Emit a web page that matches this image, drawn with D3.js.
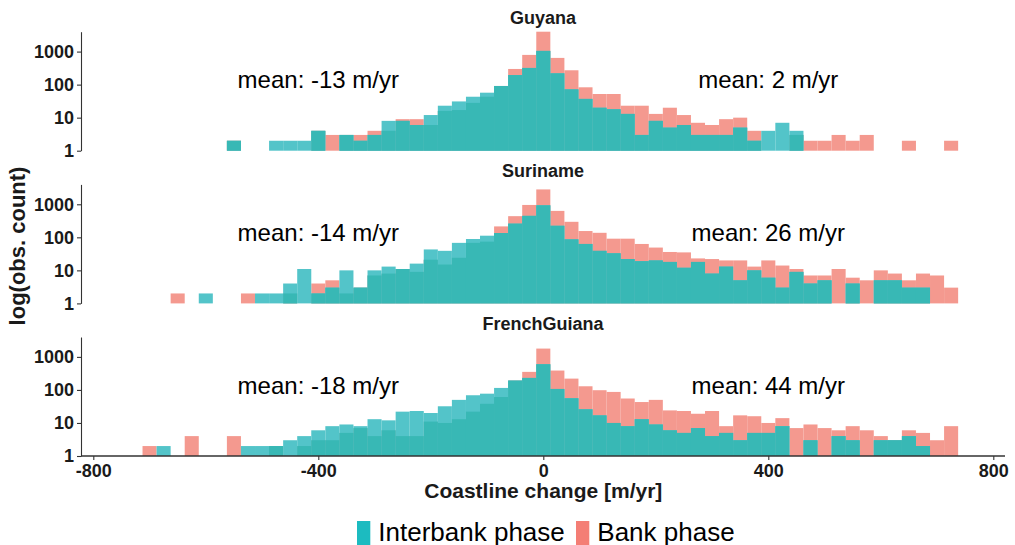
<!DOCTYPE html>
<html>
<head>
<meta charset="utf-8">
<script src="https://cdn.jsdelivr.net/npm/d3@7"></script>
<style>
  html, body { margin: 0; padding: 0; background: #fff; }
  svg { display: block; font-family: "Liberation Sans", Arial, sans-serif; }
</style>
</head>
<body>
<svg id="chart" width="1015" height="545"></svg>
<script>
// Histogram bin centres (bin width 25 m/yr)
const binCenters = [
  -700, -675, -650, -625, -600, -575, -550, -525, -500, -475,
  -450, -425, -400, -375, -350, -325, -300, -275, -250, -225,
  -200, -175, -150, -125, -100, -75, -50, -25, 0, 25,
  50, 75, 100, 125, 150, 175, 200, 225, 250, 275,
  300, 325, 350, 375, 400, 425, 450, 475, 500, 525,
  550, 575, 600, 625, 650, 675, 700, 725
];

const countries = ["Guyana", "Suriname", "FrenchGuiana"];
const phases = ["Interbank phase", "Bank phase"];

// Observation counts per bin, interbank phase
const guyanaInterbank = [
  0, 0, 0, 0, 0, 0, 2, 0, 0, 2,
  2, 2, 4, 0, 3, 2, 3, 8, 8, 6,
  12, 23, 31, 43, 57, 91, 195, 320, 1050, 220,
  72, 37, 20, 18, 13, 3, 8, 5, 6, 3,
  3, 3, 5, 2, 4, 7, 4, 0, 0, 0,
  0, 0, 0, 0, 0, 0, 0, 0
];
const surinameInterbank = [
  0, 0, 0, 0, 2, 0, 0, 0, 2, 2,
  4, 11, 2, 3, 10, 3, 10, 13, 11, 16,
  43, 39, 68, 89, 112, 135, 260, 447, 933, 224,
  87, 63, 39, 33, 22, 19, 20, 18, 12, 18,
  8, 13, 5, 10, 6, 3, 9, 4, 5, 0,
  4, 0, 5, 5, 3, 3, 0, 0
];
const frenchGuianaInterbank = [
  0, 2, 0, 0, 0, 0, 0, 2, 2, 2,
  3, 4, 6, 8, 9, 8, 13, 12, 22, 23,
  20, 32, 50, 69, 77, 115, 192, 231, 600, 107,
  56, 26, 17, 10, 8, 13, 9, 6, 5, 7,
  4, 5, 3, 5, 5, 8, 0, 3, 0, 4,
  3, 0, 3, 3, 4, 2, 0, 0
];

// Observation counts per bin, bank phase
const guyanaBank = [
  0, 0, 0, 0, 0, 0, 2, 0, 0, 0,
  0, 0, 4, 3, 3, 3, 4, 4, 9, 9,
  6, 16, 17, 28, 43, 91, 298, 794, 4000, 644,
  272, 83, 52, 52, 23, 23, 13, 20, 12, 7,
  6, 9, 10, 4, 0, 0, 3, 2, 2, 3,
  2, 3, 0, 0, 2, 0, 0, 2
];
const surinameBank = [
  0, 0, 2, 0, 0, 0, 0, 2, 0, 0,
  2, 0, 4, 5, 2, 3, 7, 8, 11, 9,
  21, 15, 24, 68, 74, 214, 437, 955, 2818, 631,
  295, 155, 137, 91, 91, 63, 49, 36, 35, 23,
  22, 20, 20, 13, 20, 14, 11, 7, 7, 11,
  6, 5, 10, 8, 5, 8, 7, 3
];
const frenchGuianaBank = [
  2, 0, 0, 4, 0, 0, 4, 0, 0, 2,
  0, 2, 3, 3, 5, 7, 4, 6, 4, 4,
  11, 10, 13, 22, 38, 61, 192, 352, 1785, 386,
  220, 129, 98, 87, 55, 43, 50, 24, 23, 19,
  23, 8, 17, 16, 10, 14, 7, 9, 7, 6,
  8, 6, 4, 3, 6, 5, 3, 8
];

const meanInterbank = [-13, -14, -18];
const meanBank = [2, 26, 44];

const xTicks = [-800, -400, 0, 400, 800];
const yTicks = [1, 10, 100, 1000];

const interbankSeries = [guyanaInterbank, surinameInterbank, frenchGuianaInterbank];
const bankSeries = [guyanaBank, surinameBank, frenchGuianaBank];

// Colours: bank bars, interbank bars, and interbank bars overlapping bank bars
const bankFill = "#F4998F";
const interbankFill = "#53C4C9";
const overlapFill = "#38B8B5";
const legendFills = ["#1CBBC0", "#F47E75"];

const binWidth = 25;
const plotLeft = 81, plotRight = 1005;
const panelTops = [31.7, 184.4, 337];
const panelHeight = 119;
const axisColor = "#333";
const textColor = "#1a1a1a";
const plainNumber = d => String(d);

const svg = d3.select("#chart");

const x = d3.scaleLinear().domain([-800, 800]).range([93.3, 993.3]);

countries.forEach((name, i) => {
  const top = panelTops[i];
  const bottom = top + panelHeight;
  const y = d3.scaleLog().domain([1, 4000]).range([bottom, top]);
  const g = svg.append("g").attr("class", "panel");

  const inter = interbankSeries[i];
  const bank = bankSeries[i];
  const bins = binCenters.map((c, j) => ({
    c, bank: bank[j], inter: inter[j], both: Math.min(bank[j], inter[j])
  }));

  const drawLayer = (key, fill) => {
    g.append("g").selectAll("rect")
      .data(bins.filter(d => d[key] > 0))
      .join("rect")
      .attr("x", d => x(d.c - binWidth / 2))
      .attr("width", d => x(d.c + binWidth / 2) - x(d.c - binWidth / 2))
      .attr("y", d => y(d[key]))
      .attr("height", d => y(1) - y(d[key]))
      .attr("fill", fill);
  };
  drawLayer("bank", bankFill);
  drawLayer("inter", interbankFill);
  drawLayer("both", overlapFill);

  // y axis
  const yAxis = d3.axisLeft(y)
    .tickValues(yTicks)
    .tickFormat(plainNumber)
    .tickSize(4)
    .tickSizeOuter(0)
    .tickPadding(3);
  const ya = g.append("g")
    .attr("transform", `translate(${plotLeft},0)`)
    .call(yAxis);
  ya.select(".domain").attr("stroke", axisColor).attr("stroke-width", 1.1);
  ya.selectAll(".tick line").attr("stroke", axisColor).attr("stroke-width", 1.1);
  ya.selectAll(".tick text")
    .attr("fill", textColor)
    .style("font-size", "18px")
    .style("font-weight", "bold")
    .style("font-family", '"Liberation Sans", Arial, sans-serif');

  // facet title
  g.append("text")
    .attr("x", (plotLeft + plotRight) / 2)
    .attr("y", top - 7.5)
    .attr("text-anchor", "middle")
    .attr("fill", textColor)
    .style("font-size", "18px")
    .style("font-weight", "bold")
    .text(name);

  // mean annotations
  g.append("text")
    .attr("x", x(-400))
    .attr("y", y(100) + 3.8)
    .attr("text-anchor", "middle")
    .attr("fill", "#000")
    .style("font-size", "24px")
    .text(`mean: ${meanInterbank[i]} m/yr`);
  g.append("text")
    .attr("x", x(400))
    .attr("y", y(100) + 3.8)
    .attr("text-anchor", "middle")
    .attr("fill", "#000")
    .style("font-size", "24px")
    .text(`mean: ${meanBank[i]} m/yr`);

  // x axis on the bottom panel only
  if (i === countries.length - 1) {
    const xa = g.append("g")
      .attr("transform", `translate(0,${bottom})`)
      .call(d3.axisBottom(x).tickValues(xTicks).tickFormat(plainNumber)
        .tickSize(4).tickSizeOuter(0).tickPadding(4));
    xa.select(".domain").remove();
    xa.append("line")
      .attr("x1", plotLeft).attr("x2", plotRight)
      .attr("y1", 0).attr("y2", 0)
      .attr("stroke", axisColor).attr("stroke-width", 1.3);
    xa.selectAll(".tick line").attr("stroke", axisColor).attr("stroke-width", 1.1);
    xa.selectAll(".tick text")
      .attr("fill", textColor)
      .style("font-size", "18px")
      .style("font-weight", "bold")
      .style("font-family", '"Liberation Sans", Arial, sans-serif');
  }
});

// axis titles
svg.append("text")
  .attr("x", x(0))
  .attr("y", 498)
  .attr("text-anchor", "middle")
  .attr("fill", textColor)
  .style("font-size", "21px")
  .style("font-weight", "bold")
  .text("Coastline change [m/yr]");

svg.append("text")
  .attr("transform", "translate(25,246) rotate(-90)")
  .attr("text-anchor", "middle")
  .attr("fill", textColor)
  .style("font-size", "22px")
  .style("font-weight", "bold")
  .text("log(obs. count)");

// legend
const legendX = [357, 576];
phases.forEach((p, i) => {
  const lg = svg.append("g");
  lg.append("rect")
    .attr("x", legendX[i]).attr("y", 521)
    .attr("width", 13.3).attr("height", 26)
    .attr("fill", legendFills[i]);
  lg.append("text")
    .attr("x", legendX[i] + 21.3)
    .attr("y", 540.5)
    .attr("fill", "#000")
    .style("font-size", "26px")
    .text(p);
});
</script>
</body>
</html>
